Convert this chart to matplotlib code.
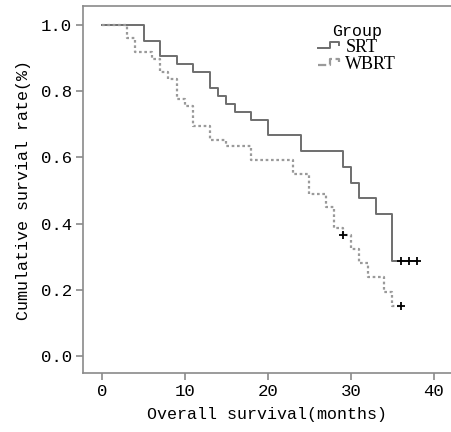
import numpy as np
import matplotlib
matplotlib.use("Agg")
import matplotlib.pyplot as plt
from matplotlib.lines import Line2D
from matplotlib.legend_handler import HandlerBase
from matplotlib.ticker import FormatStrFormatter

# Kaplan-Meier curves (time in months, survival after each drop)
srt_t = [0, 5, 7, 9, 11, 13, 14, 15, 16, 18, 20, 24, 29, 30, 31, 33, 35, 38]
srt_s = [1.0, 0.952, 0.905, 0.881, 0.857, 0.810, 0.786, 0.762, 0.738, 0.714,
         0.667, 0.619, 0.571, 0.524, 0.476, 0.429, 0.286, 0.286]
srt_cens_t = [36, 37, 38]
srt_cens_s = [0.286, 0.286, 0.286]

wbrt_t = [0, 3, 4, 6, 7, 8, 9, 10, 11, 13, 15, 18, 23, 25, 27, 28, 29, 30, 31, 32, 34, 35, 36]
wbrt_s = [1.0, 0.959, 0.918, 0.898, 0.857, 0.837, 0.776, 0.755, 0.694, 0.653, 0.633,
          0.592, 0.551, 0.490, 0.449, 0.388, 0.367, 0.324, 0.281, 0.238, 0.194, 0.151, 0.151]
wbrt_cens_t = [29, 36]
wbrt_cens_s = [0.367, 0.151]

x_ticks = [0, 10, 20, 30, 40]
y_ticks = [0.0, 0.2, 0.4, 0.6, 0.8, 1.0]

mono = "Liberation Mono"
spine_col = "#8a8a8a"


class StepHandler(HandlerBase):
    # little step glyph like the SPSS legend
    def create_artists(self, legend, orig_handle, xdescent, ydescent,
                       width, height, fontsize, trans):
        w, h = width, height
        xs = np.array([0, 0.5 * w, 0.5 * w, 0.9 * w, 0.9 * w]) - xdescent
        ys = np.array([0.3 * h, 0.3 * h, 0.8 * h, 0.8 * h, 0.55 * h]) - ydescent
        ln = Line2D(xs, ys, color=orig_handle.get_color(),
                    linestyle=orig_handle.get_linestyle(),
                    linewidth=orig_handle.get_linewidth())
        ln.set_transform(trans)
        return [ln]


fig = plt.figure(figsize=(4.51, 4.32), dpi=100)
ax = fig.add_axes([83 / 451, 1 - 373 / 432, 1 - 83 / 451, (373 - 6) / 432])

l1, = ax.step(srt_t, srt_s, where="post", color="#6e6e6e", lw=1.4, label="SRT")
l2, = ax.step(wbrt_t, wbrt_s, where="post", color="#9a9a9a", lw=1.6,
              linestyle=(0, (1.2, 1.2)), label="WBRT")
ax.plot(srt_cens_t, srt_cens_s, "+", color="black", ms=6, mew=1.3, ls="none")
ax.plot(wbrt_cens_t, wbrt_cens_s, "+", color="black", ms=6, mew=1.3, ls="none")

ax.set_xlim(-2.29, 42.05)
ax.set_ylim(-0.051, 1.057)
ax.set_xticks(x_ticks)
ax.set_yticks(y_ticks)
ax.yaxis.set_major_formatter(FormatStrFormatter("%.1f"))

for s in ["left", "bottom", "top"]:
    ax.spines[s].set_color(spine_col)
    ax.spines[s].set_linewidth(1.2)
ax.spines["right"].set_visible(False)
ax.tick_params(direction="out", length=5, width=1.2, color=spine_col,
               labelsize=12.5, pad=3)
for lab in ax.get_xticklabels() + ax.get_yticklabels():
    lab.set_family(mono)

ax.set_xlabel("Overall survival(months)", family=mono, fontsize=12, labelpad=6)
ax.set_ylabel("Cumulative survial rate(%)", family=mono, fontsize=12, labelpad=7)

leg = ax.legend(handles=[l1, l2], title="Group", loc="upper left",
                bbox_to_anchor=(0.6, 0.99), frameon=False,
                handler_map={Line2D: StepHandler()},
                handlelength=1.3, handletextpad=0.2, labelspacing=0.0,
                borderpad=0.3, prop={"family": "Liberation Serif", "size": 13})
leg.get_title().set_family(mono)
leg.get_title().set_fontsize(12)

fig.savefig("out.png", dpi=100)
